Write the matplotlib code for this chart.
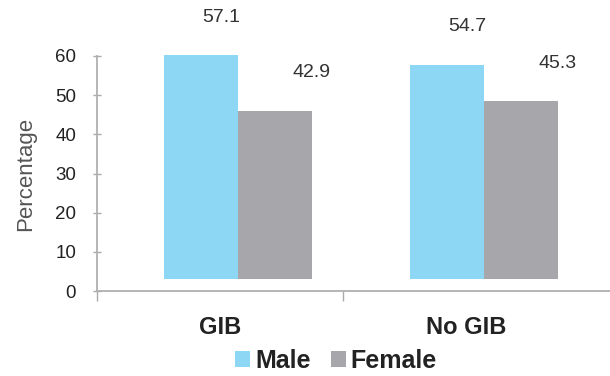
import matplotlib
matplotlib.use("Agg")
import matplotlib.pyplot as plt
import numpy as np

categories = ["GIB", "No GIB"]
series = ["Male", "Female"]
male = [57.1, 54.7]
female = [42.9, 45.3]
yticks = [0, 10, 20, 30, 40, 50, 60]

colors = ["#8dd7f5", "#a7a7ab"]
plt.rcParams['font.family'] = ['Liberation Sans', 'DejaVu Sans']

fig = plt.figure(figsize=(6.10, 3.76), dpi=100)
W, H = 610, 376
ax = fig.add_axes([97 / W, (H - 291) / H, (610 - 97) / W, (291 - 56) / H])

x = np.arange(len(categories))
width = 0.30
shift = 0.073
base = 3.1  # visible gap between bars and axis in the reference

vals = [male, female]
label_dx = [0.08, 0.15]
for k, (name, v) in enumerate(zip(series, vals)):
    pos = x + shift + (k - 0.5) * width
    ax.bar(pos, v, width, bottom=base, color=colors[k], label=name, clip_on=False)
    for p, val in zip(pos, v):
        ax.text(p + label_dx[k], val + 12.8, f"{val:.1f}", ha="center", va="center",
                fontsize=14, color="#333333", clip_on=False)

ax.set_xlim(-0.5, 1.585)
ax.set_ylim(0, 60)
ax.set_yticks(yticks)
ax.set_yticklabels([str(t) for t in yticks], fontsize=13.5, color="#222222")
ax.set_xticks(x)
ax.set_xticklabels(categories, fontsize=17, fontweight="bold", color="#222222")
ax.tick_params(axis="x", length=0, pad=18)
ax.set_xticks([-0.5, 0.5], minor=True)
ax.tick_params(axis="x", which="minor", length=7, color="#aaaaaa", width=1)
ax.tick_params(axis="y", direction="inout", length=6, color="#aaaaaa", width=1, pad=12)

for s in ["top", "right"]:
    ax.spines[s].set_visible(False)
for s in ["left", "bottom"]:
    ax.spines[s].set_color("#b0b0b0")
    ax.spines[s].set_linewidth(1.3)

ax.set_ylabel("Percentage", fontsize=16, color="#555555", labelpad=14)

leg = fig.legend(loc="center", bbox_to_anchor=(336 / W, (H - 361) / H), ncol=2,
                 frameon=False, handlelength=0.6, handleheight=0.6,
                 handletextpad=0.2, columnspacing=0.8,
                 prop={"size": 18, "weight": "bold"}, borderaxespad=0)
for t in leg.get_texts():
    t.set_color("#222222")

fig.savefig("out.png", dpi=100)
